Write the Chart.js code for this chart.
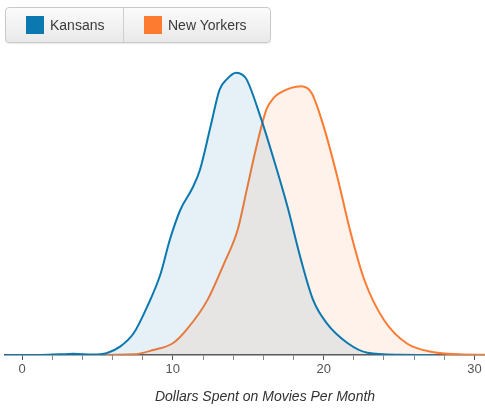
<!DOCTYPE html>
<html lang="en">
<head>
  <meta charset="UTF-8" />
  <title>Dollars Spent on Movies Per Month</title>
  <script src="https://cdn.jsdelivr.net/npm/chart.js"></script>
  <style>
    body {
      margin: 0;
      padding: 0;
      background: #fff;
      font-family: 'Helvetica Neue', Helvetica, Arial, sans-serif;
    }

    .wrap {
      position: relative;
      width: 485px;
      height: 416px;
    }

    canvas {
      position: absolute;
      left: 0;
      top: 0;
    }

    .legend {
      position: absolute;
      left: 5px;
      top: 7px;
      height: 34px;
      display: flex;
      border: 1px solid #c9c9c9;
      border-radius: 4px;
      background: linear-gradient(#fbfbfb, #e9e9e9);
      box-shadow: 0 1px 1px rgba(0, 0, 0, 0.08);
    }

    .legend .item {
      display: flex;
      align-items: center;
      padding-left: 20px;
      font-size: 14px;
      color: #3a3a3a;
    }

    .legend .item + .item {
      border-left: 1px solid #cfcfcf;
    }

    .legend .swatch {
      width: 18px;
      height: 18px;
      margin-right: 6px;
    }

    .xtitle {
      position: absolute;
      left: 0;
      width: 530px;
      top: 388px;
      text-align: center;
      font-style: italic;
      font-size: 14px;
      color: #333;
    }
  </style>
</head>
<body>
  <div class="wrap">
    <canvas id="chart" width="485" height="416"></canvas>
    <div class="legend" id="legend"></div>
    <div class="xtitle">Dollars Spent on Movies Per Month</div>
  </div>

  <script>
    // density estimates
    const seriesNames = ['Kansans', 'New Yorkers'];
    const seriesColors = ['#0b78b0', '#fd7b31'];
    const seriesFills = ['rgba(11, 120, 176, 0.1)', 'rgba(253, 123, 49, 0.1)'];

    const kansasX = [-1.1, 1.0, 2.5, 3.4, 4.7, 5.6, 6.5, 7.4, 8.3, 9.2, 9.8, 10.5, 11.3, 11.8, 12.5, 13.1, 13.6, 14.2, 14.6, 14.9, 15.8, 16.7, 17.6, 18.5, 19.3, 20.2, 21.6, 22.9, 25.1, 27.4];
    const kansasY = [0, 0, 0.0003, 0.0005, 0.0002, 0.0008, 0.0037, 0.0096, 0.0214, 0.0362, 0.0510, 0.0643, 0.0739, 0.0820, 0.1011, 0.1175, 0.1222, 0.1249, 0.1241, 0.1219, 0.1056, 0.0864, 0.0657, 0.0421, 0.0244, 0.0141, 0.0052, 0.0010, 0.0001, 0];

    const newYorkX = [4.3, 7.4, 8.7, 10.0, 10.9, 12.3, 13.4, 14.3, 14.9, 15.6, 16.2, 16.7, 17.1, 18.5, 19.2, 20.0, 20.9, 21.8, 22.7, 24.0, 25.5, 27.3, 29.0, 30.7];
    const newYorkY = [0, 0.0003, 0.0022, 0.0052, 0.0111, 0.0244, 0.0406, 0.0554, 0.0731, 0.0938, 0.1086, 0.1139, 0.1160, 0.1189, 0.1160, 0.1012, 0.0790, 0.0539, 0.0332, 0.0155, 0.0052, 0.0012, 0.0003, 0.0001];

    const xMin = -1.13;
    const xMax = 30.7;
    const yMax = 0.135;

    // legend buttons
    const legend = document.getElementById('legend');
    const legendWidths = [97, 126];
    seriesNames.forEach((name, i) => {
      const item = document.createElement('div');
      item.className = 'item';
      item.style.width = legendWidths[i] + 'px';
      item.innerHTML = '<span class="swatch" style="background:' + seriesColors[i] + '"></span>' + name;
      legend.appendChild(item);
    });

    const toPoints = (xs, ys) => xs.map((x, i) => ({ x: x, y: ys[i] }));

    const ctx = document.getElementById('chart').getContext('2d');
    new Chart(ctx, {
      type: 'line',
      data: {
        datasets: [
          {
            label: seriesNames[0],
            data: toPoints(kansasX, kansasY),
            borderColor: seriesColors[0],
            backgroundColor: seriesFills[0],
            borderWidth: 2,
            pointRadius: 0,
            cubicInterpolationMode: 'monotone',
            fill: 'origin'
          },
          {
            label: seriesNames[1],
            data: toPoints(newYorkX, newYorkY),
            borderColor: seriesColors[1],
            backgroundColor: seriesFills[1],
            borderWidth: 2,
            pointRadius: 0,
            cubicInterpolationMode: 'monotone',
            fill: 'origin'
          }
        ]
      },
      options: {
        responsive: false,
        animation: false,
        layout: {
          padding: { top: 50, left: 5, right: 0, bottom: 10 }
        },
        plugins: {
          legend: { display: false },
          tooltip: { enabled: false }
        },
        scales: {
          x: {
            type: 'linear',
            min: xMin,
            max: xMax,
            afterFit: scale => { scale.height = 51; },
            border: { color: '#555', width: 1.5 },
            grid: {
              drawOnChartArea: false,
              tickLength: 5,
              tickColor: c => (c.tick && c.tick.value % 10 === 0) ? '#555' : '#888'
            },
            ticks: {
              stepSize: 2,
              includeBounds: false,
              padding: 2,
              maxRotation: 0,
              autoSkip: false,
              color: '#555',
              font: { size: 13, family: "'Helvetica Neue', Helvetica, Arial, sans-serif" },
              callback: v => (v % 10 === 0 ? v : '')
            }
          },
          y: {
            display: false,
            min: 0,
            max: yMax
          }
        }
      }
    });
  </script>
</body>
</html>
